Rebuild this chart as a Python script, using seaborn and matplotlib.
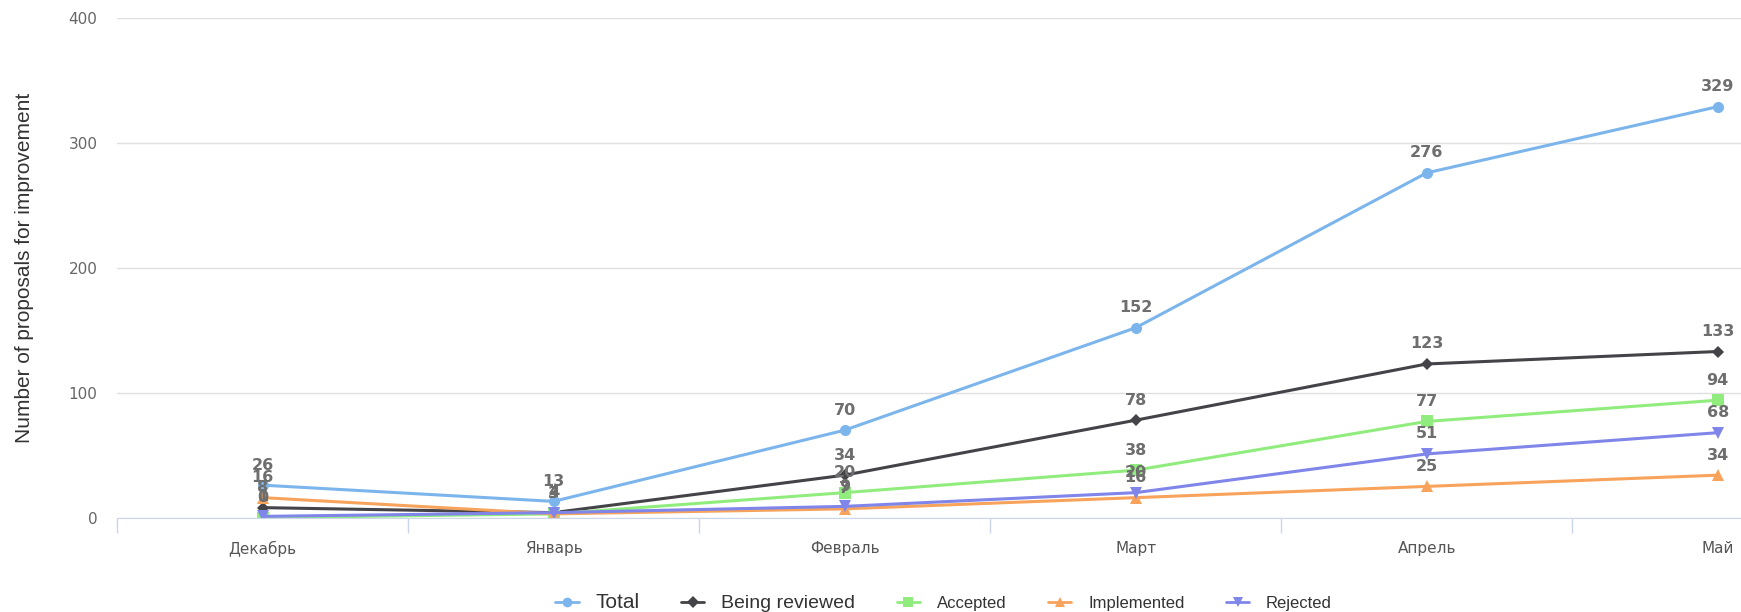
import numpy as np
import pandas as pd
import matplotlib
matplotlib.use("Agg")
import matplotlib.pyplot as plt
import seaborn as sns
from matplotlib.lines import Line2D

months = ["Декабрь", "Январь", "Февраль", "Март", "Апрель", "Май"]
total = [26, 13, 70, 152, 276, 329]
reviewed = [8, 4, 34, 78, 123, 133]
accepted = [0, 3, 20, 38, 77, 94]
implemented = [16, 3, 7, 16, 25, 34]
rejected = [1, 4, 9, 20, 51, 68]

series = ["Total", "Being reviewed", "Accepted", "Implemented", "Rejected"]
colors = ["#7cb5ec", "#434348", "#90ed7d", "#f7a35c", "#8085e9"]
marks = ["o", "D", "s", "^", "v"]

df = pd.DataFrame({
    "month": months * 5,
    "value": total + reviewed + accepted + implemented + rejected,
    "series": np.repeat(series, len(months)),
})
df["x"] = df["month"].map({m: i for i, m in enumerate(months)})

sns.set_style("white")
plt.rcParams["font.family"] = ["DejaVu Sans"]

fig = plt.figure(figsize=(17.41, 6.12), dpi=100)
ax = fig.add_axes([0.0672, 0.1542, 0.9328, 0.8164])

sns.lineplot(data=df, x="x", y="value", hue="series", style="series",
             hue_order=series, style_order=series,
             palette=dict(zip(series, colors)),
             markers=dict(zip(series, marks)), dashes=False,
             linewidth=2.2, markersize=8, markeredgewidth=0,
             legend=False, ax=ax)
# smaller diamonds
for ln in ax.lines:
    if ln.get_marker() == "D":
        ln.set_markersize(6)

# data labels
for name in series:
    sub = df[df["series"] == name]
    for xv, yv in zip(sub["x"], sub["value"]):
        ax.annotate(str(yv), (xv, yv), xytext=(0, 9), textcoords="offset points",
                    ha="center", va="bottom", fontsize=11.5, fontweight="bold",
                    color="#6e6e6e")

ax.set_xlim(-0.5, 5.08)
ax.set_ylim(0, 400)
ax.set_yticks([0, 100, 200, 300, 400])
ax.yaxis.grid(True, color="#e0e0e0", linewidth=1)
ax.set_xticks(range(len(months)))
ax.set_xticklabels(months)
ax.set_xticks(np.arange(-0.5, 5.0, 1), minor=True)
ax.tick_params(axis="x", which="major", bottom=False, pad=13, labelsize=11, labelcolor="#555555")
ax.tick_params(axis="x", which="minor", bottom=True, length=11, color="#ccd6eb", width=1)
ax.tick_params(axis="y", length=0, pad=14, labelsize=11, labelcolor="#666666")
for s in ["top", "right", "left"]:
    ax.spines[s].set_visible(False)
ax.spines["bottom"].set_color("#ccd6eb")
ax.set_xlabel("")
ax.set_ylabel("Number of proposals for improvement", fontsize=15,
              family="Liberation Sans", color="#333333", labelpad=25)

handles = [Line2D([], [], color=c, marker=m, markersize=7 if m != "D" else 6,
                  linewidth=2, markeredgewidth=0)
           for c, m in zip(colors, marks)]
leg = fig.legend(handles, series, loc="lower center", ncol=5, frameon=False,
                 bbox_to_anchor=(0.542, -0.025), handlelength=1.4, columnspacing=2.5,
                 handletextpad=1.0, prop={"family": "Liberation Sans", "size": 12})
sizes = [15, 14, 12, 12, 12]
for t, s in zip(leg.get_texts(), sizes):
    t.set_fontsize(s)
    t.set_color("#333333")

fig.savefig("out.png", dpi=100)
